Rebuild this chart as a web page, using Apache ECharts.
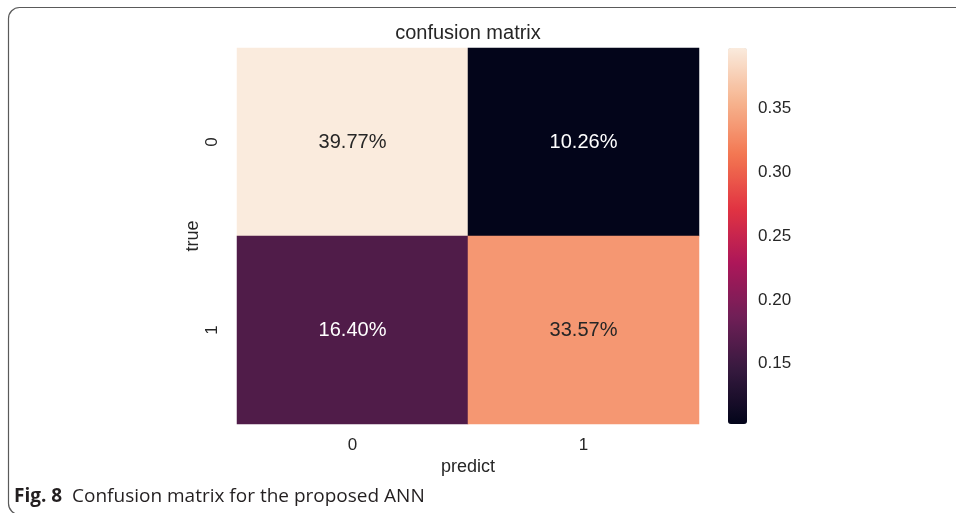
<!DOCTYPE html>
<html>
<head>
<meta charset="utf-8">
<script src="https://cdn.jsdelivr.net/npm/echarts@6/dist/echarts.min.js"></script>
<style>
  html, body { margin: 0; padding: 0; background: #fff; }
  #chart { width: 956px; height: 513px; }
</style>
</head>
<body>
<div id="chart"></div>
<script>
// Axis categories
const predictLabels = ['0', '1'];
const trueLabels = ['0', '1'];
// Confusion matrix fractions, one array per true class (columns = predicted class)
const rowTrue0 = [0.3977, 0.1026];
const rowTrue1 = [0.1640, 0.3357];
// Colour bar range and tick labels
const scaleMin = 0.1026;
const scaleMax = 0.3977;
const colorbarTicks = [0.15, 0.20, 0.25, 0.30, 0.35];
// "rocket" colour ramp, dark to light
const rocket = ['#03051A', '#35193E', '#701F57', '#AD1759', '#E13342', '#F37651', '#F6B48F', '#FAEBDD'];

const rows = [rowTrue0, rowTrue1];
const cells = [];
rows.forEach((row, yi) => {
  row.forEach((v, xi) => {
    const light = (v - scaleMin) / (scaleMax - scaleMin) > 0.6;
    cells.push({ value: [xi, yi, v], label: { color: light ? '#262626' : '#ffffff' } });
  });
});

const textColor = '#262626';
const baseFont = 'Liberation Sans, Arial, sans-serif';

const chart = echarts.init(document.getElementById('chart'));
chart.setOption({
  animation: false,
  backgroundColor: '#ffffff',
  textStyle: { fontFamily: baseFont },
  title: {
    text: 'confusion matrix',
    left: 468, top: 23, textAlign: 'center', padding: 0,
    textStyle: { fontSize: 20, fontWeight: 'normal', color: textColor, fontFamily: baseFont }
  },
  grid: [
    { left: 237, top: 48, width: 462, height: 376 },
    { left: 728, top: 48, width: 19, height: 376 }
  ],
  xAxis: [
    {
      type: 'category', gridIndex: 0, data: predictLabels,
      name: 'predict', nameLocation: 'middle', nameGap: 34, nameMoveOverlap: false,
      nameTextStyle: { fontSize: 18, color: textColor },
      axisLine: { show: false }, axisTick: { show: false }, splitLine: { show: false },
      axisLabel: { fontSize: 17, color: textColor, margin: 13 }
    },
    { type: 'value', gridIndex: 1, show: false, min: 0, max: 1 }
  ],
  yAxis: [
    {
      type: 'category', gridIndex: 0, data: trueLabels, inverse: true,
      name: 'true', nameLocation: 'middle', nameGap: 35, nameRotate: 90, nameMoveOverlap: false,
      nameTextStyle: { fontSize: 18, color: textColor },
      axisLine: { show: false }, axisTick: { show: false }, splitLine: { show: false },
      axisLabel: { fontSize: 17, color: textColor, rotate: 90, margin: 16 }
    },
    {
      type: 'value', gridIndex: 1, position: 'right', min: scaleMin, max: scaleMax,
      axisLine: { show: false }, axisTick: { show: false }, splitLine: { show: false },
      axisLabel: {
        customValues: colorbarTicks, fontSize: 17, color: textColor, margin: 11,
        formatter: v => v.toFixed(2)
      }
    }
  ],
  visualMap: {
    type: 'continuous', seriesIndex: 0, min: scaleMin, max: scaleMax,
    calculable: false, left: 728, top: 48, padding: 0,
    itemWidth: 19, itemHeight: 376, text: null, showLabel: false,
    inRange: { color: rocket }
  },
  series: [{
    type: 'heatmap', xAxisIndex: 0, yAxisIndex: 0, data: cells,
    label: {
      show: true, fontSize: 20, fontFamily: baseFont,
      formatter: p => (p.value[2] * 100).toFixed(2) + '%'
    },
    emphasis: { disabled: true }
  }],
  graphic: [
    {
      type: 'rect', silent: true,
      shape: { x: 8.5, y: 7.5, width: 1000, height: 507, r: 11 },
      style: { fill: null, stroke: '#5a5a5a', lineWidth: 1.2 }
    },
    {
      type: 'text', left: 14, top: 487,
      style: {
        text: '{b|Fig. 8}  Confusion matrix for the proposed ANN',
        fill: '#231F20', font: '19px "Open Sans", sans-serif',
        rich: { b: { fontWeight: 'bold', fontSize: 19, fontFamily: 'Open Sans', fill: '#231F20' } }
      }
    }
  ]
});
</script>
</body>
</html>
